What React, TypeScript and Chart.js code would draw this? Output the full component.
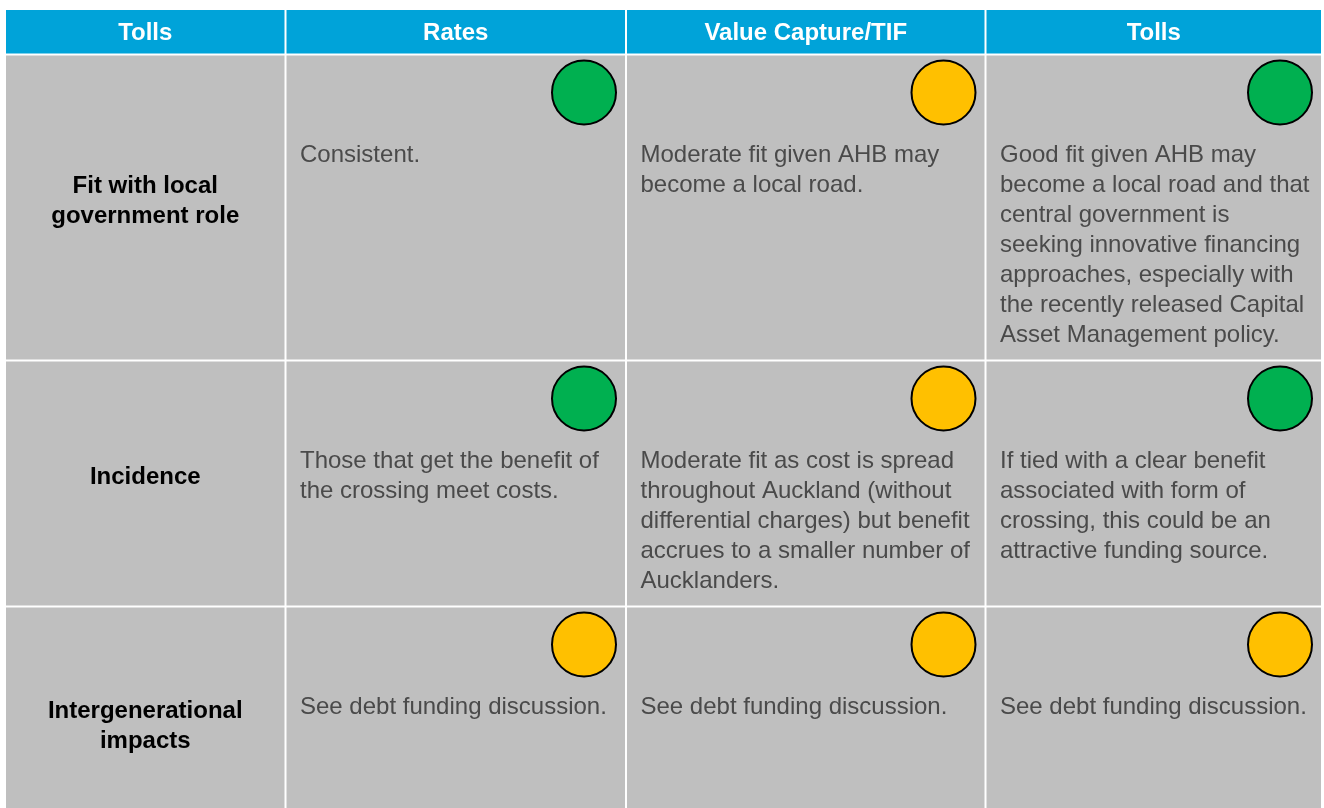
import React, { useEffect, useRef } from "react";
import { Chart, registerables } from "chart.js";

Chart.register(...registerables);

// ---- content ----
const columnHeaders = ["Tolls", "Rates", "Value Capture/TIF", "Tolls"];
const criteria = [
  ["Fit with local", "government role"],
  ["Incidence"],
  ["Intergenerational", "impacts"],
];
// ratings per option column (rows follow criteria order)
const ratesRatings = ["green", "green", "amber"];
const valueCaptureRatings = ["amber", "amber", "amber"];
const tollsRatings = ["green", "green", "amber"];

const ratesTexts = [
  ["Consistent."],
  ["Those that get the benefit of", "the crossing meet costs."],
  ["See debt funding discussion."],
];
const valueCaptureTexts = [
  ["Moderate fit given AHB may", "become a local road."],
  [
    "Moderate fit as cost is spread",
    "throughout Auckland (without",
    "differential charges) but benefit",
    "accrues to a smaller number of",
    "Aucklanders.",
  ],
  ["See debt funding discussion."],
];
const tollsTexts = [
  [
    "Good fit given AHB may",
    "become a local road and that",
    "central government is",
    "seeking innovative financing",
    "approaches, especially with",
    "the recently released Capital",
    "Asset Management policy.",
  ],
  [
    "If tied with a clear benefit",
    "associated with form of",
    "crossing, this could be an",
    "attractive funding source.",
  ],
  ["See debt funding discussion."],
];

const optionRatings = [ratesRatings, valueCaptureRatings, tollsRatings];
const optionTexts = [ratesTexts, valueCaptureTexts, tollsTexts];

// ---- layout (scale units) ----
const W = 1324;
const H = 808;
const COL_EDGES = [6, 285.5, 626, 985.5, 1322];
const ROW_EDGES = [10, 54.5, 360.5, 606.5, 860];
const LINE_H = 30;
const FONT = "Arial, 'Liberation Sans', Helvetica, sans-serif";
const COLORS: Record<string, string> = { green: "#00B050", amber: "#FFC000" };

const tablePlugin = {
  id: "tablePlugin",
  beforeDatasetsDraw(chart: any) {
    const { ctx, scales } = chart;
    const px = (v: number) => scales.x.getPixelForValue(v);
    const py = (v: number) => scales.y.getPixelForValue(v);
    ctx.save();
    const gap = 1;
    // header
    for (let c = 0; c < columnHeaders.length; c++) {
      const x0 = px(COL_EDGES[c]) + (c === 0 ? 0 : gap);
      const x1 = px(COL_EDGES[c + 1]) - gap;
      const y0 = py(ROW_EDGES[0]);
      const y1 = py(ROW_EDGES[1]) - gap;
      ctx.fillStyle = "#00A3D9";
      ctx.fillRect(x0, y0, x1 - x0, y1 - y0);
      ctx.fillStyle = "#FFFFFF";
      ctx.font = `bold 24px ${FONT}`;
      ctx.textAlign = "center";
      ctx.textBaseline = "alphabetic";
      ctx.fillText(columnHeaders[c], (x0 + x1) / 2, (y0 + y1) / 2 + 8.5);
    }
    // body
    for (let r = 0; r < criteria.length; r++) {
      const y0 = py(ROW_EDGES[r + 1]) + gap;
      const y1 = py(ROW_EDGES[r + 2]) - gap;
      for (let c = 0; c < columnHeaders.length; c++) {
        const x0 = px(COL_EDGES[c]) + (c === 0 ? 0 : gap);
        const x1 = px(COL_EDGES[c + 1]) - gap;
        ctx.fillStyle = "#BFBFBF";
        ctx.fillRect(x0, y0, x1 - x0, y1 - y0);
        if (c === 0) {
          const lines = criteria[r];
          const cy = (py(ROW_EDGES[r + 1]) + py(ROW_EDGES[r + 2])) / 2;
          ctx.fillStyle = "#000000";
          ctx.font = `bold 24px ${FONT}`;
          ctx.textAlign = "center";
          lines.forEach((ln, i) => {
            ctx.fillText(ln, (x0 + x1) / 2, cy + (i - (lines.length - 1) / 2) * LINE_H + 0);
          });
        } else {
          const lines = optionTexts[c - 1][r];
          ctx.fillStyle = "#4A4A4A";
          ctx.font = `24px ${FONT}`;
          ctx.textAlign = "left";
          lines.forEach((ln, i) => {
            ctx.fillText(ln, x0 + 13.5, py(ROW_EDGES[r + 1]) + 107.5 + i * LINE_H);
          });
        }
      }
    }
    ctx.restore();
  },
};

export default function App() {
  const ref = useRef<HTMLCanvasElement>(null);
  useEffect(() => {
    document.body.style.margin = "0";
    const points: any[] = [];
    const colors: string[] = [];
    optionRatings.forEach((ratings, ci) => {
      ratings.forEach((rating, ri) => {
        points.push({ x: COL_EDGES[ci + 2] - 42, y: ROW_EDGES[ri + 1] + 38 });
        colors.push(COLORS[rating]);
      });
    });
    const chart = new Chart(ref.current!, {
      type: "scatter",
      data: {
        datasets: [
          {
            data: points,
            pointRadius: 32,
            pointBorderWidth: 2,
            pointBackgroundColor: colors,
            pointBorderColor: "#000000",
            clip: false as any,
          },
        ],
      },
      options: {
        animation: false,
        responsive: false,
        layout: { padding: 0, autoPadding: false } as any,
        plugins: { legend: { display: false }, tooltip: { enabled: false } },
        events: [],
        scales: {
          x: { type: "linear", min: 0, max: W, display: false },
          y: { type: "linear", min: 0, max: H, reverse: true, display: false },
        },
      },
      plugins: [tablePlugin],
    });
    return () => chart.destroy();
  }, []);
  return (
    <div style={{ position: "absolute", left: 0, top: 0, width: W, height: H, background: "#fff" }}>
      <canvas ref={ref} width={W} height={H} />
    </div>
  );
}
